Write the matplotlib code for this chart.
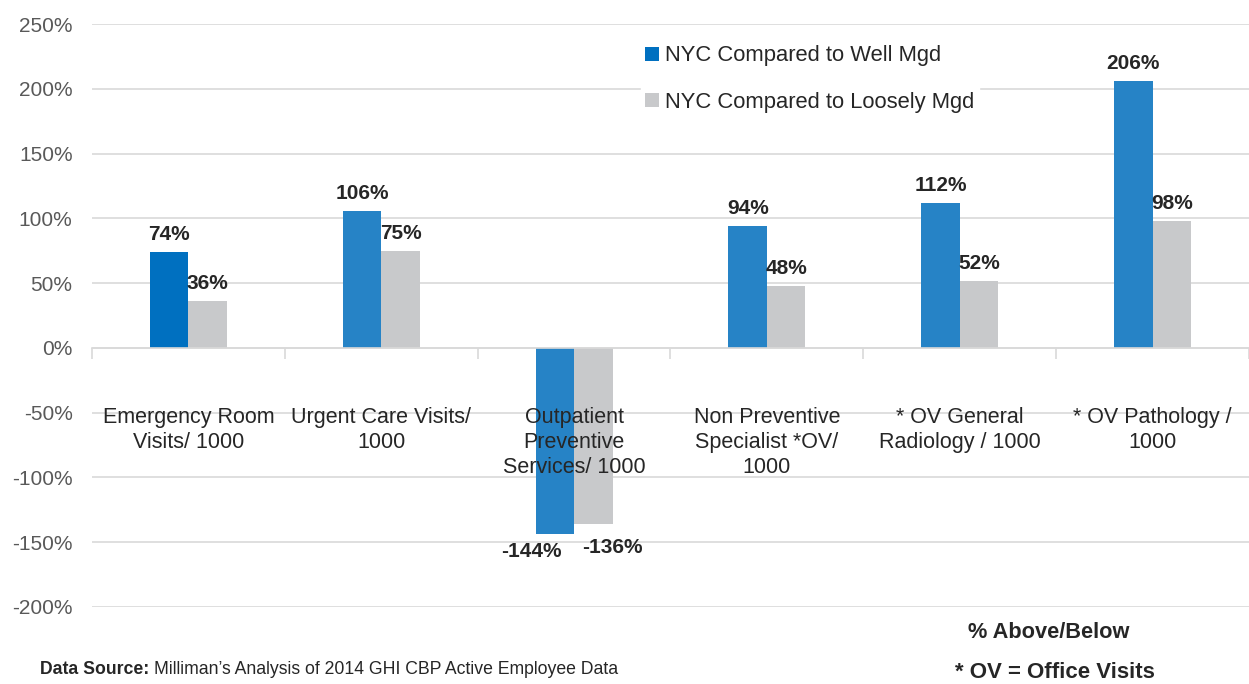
import matplotlib.pyplot as plt
import numpy as np

plt.rcParams['font.family'] = ['Liberation Sans', 'DejaVu Sans']

# chart data
categories = ["Emergency Room\nVisits/ 1000", "Urgent Care Visits/\n1000",
              "Outpatient\nPreventive\nServices/ 1000", "Non Preventive\nSpecialist *OV/\n1000",
              "* OV General\nRadiology / 1000", "* OV Pathology /\n1000"]
well_mgd = [74, 106, -144, 94, 112, 206]
loosely_mgd = [36, 75, -136, 48, 52, 98]
yticks = list(range(-200, 251, 50))

BLUE = "#2683C6"
BLUE_FIRST = "#0070C0"
GRAY = "#C8C9CB"
GRID = "#D9D9D9"
DARK = "#262626"

fig = plt.figure(figsize=(12.49, 6.84), dpi=100)
ax = fig.add_axes([92 / 1249, 77 / 684, 1 - 92 / 1249, (607 - 24) / 684])

x = np.arange(len(categories))
w = 0.2
blue_colors = [BLUE_FIRST] + [BLUE] * (len(categories) - 1)
ax.bar(x - w / 2, well_mgd, w, color=blue_colors, zorder=3, label="NYC Compared to Well Mgd")
ax.bar(x + w / 2, loosely_mgd, w, color=GRAY, zorder=3, label="NYC Compared to Loosely Mgd")

# value labels
for i in range(len(categories)):
    for off, v in ((-w / 2, well_mgd[i]), (w / 2, loosely_mgd[i])):
        if v >= 0:
            ax.text(x[i] + off, v + 6, f"{v}%", ha="center", va="bottom",
                    fontsize=15, fontweight="bold", color=DARK)
        else:
            # negative labels are pushed apart so they don't collide
            shift = -0.12 if off < 0 else 0.1
            drop = 6 if off < 0 else 11
            ax.text(x[i] + off + shift, v - drop, f"{v}%", ha="center", va="top",
                    fontsize=15, fontweight="bold", color=DARK)

# category labels
for i, c in enumerate(categories):
    ax.text(x[i], -46, c, ha="center", va="top", fontsize=15.5, color=DARK,
            linespacing=1.25)

ax.set_xlim(-0.5, len(categories) - 0.5)
ax.set_ylim(-200, 250)
ax.set_yticks(yticks)
ax.set_yticklabels([f"{t}%" for t in yticks], fontsize=15, color="#595959")
ax.tick_params(axis="y", length=0, pad=14)
ax.grid(axis="y", color=GRID, linewidth=1.2, zorder=0)

for s in ["top", "right", "left"]:
    ax.spines[s].set_visible(False)
ax.spines["bottom"].set_position(("data", 0))
ax.spines["bottom"].set_color(GRID)
ax.spines["bottom"].set_linewidth(1.2)
ax.spines["bottom"].set_zorder(4)
ax.set_xticks(np.arange(-0.5, len(categories), 1.0))
ax.set_xticklabels([])
ax.tick_params(axis="x", direction="out", length=8, color=GRID, width=1.2)

leg = ax.legend(loc="upper left", bbox_to_anchor=(630 / 1249, 1 - 30 / 684),
                bbox_transform=fig.transFigure, frameon=True, fontsize=15.8,
                handlelength=0.6, handleheight=0.6, handletextpad=0.3,
                labelspacing=1.15, borderpad=0.2, fancybox=False)
leg.get_frame().set_edgecolor("white")
leg.get_frame().set_facecolor("white")
leg.get_frame().set_alpha(1)
for t in leg.get_texts():
    t.set_color(DARK)

# footer
src_bold = fig.text(40 / 1249, 1 - 670 / 684, "Data Source:", fontsize=12.7, fontweight="bold",
                    va="center", color=DARK)
fig.canvas.draw()
bb = src_bold.get_window_extent()
fig.text((bb.x1 + 5) / 1249, 1 - 670 / 684,
         "Milliman’s Analysis of 2014 GHI CBP Active Employee Data",
         fontsize=12.7, va="center", color=DARK)
fig.text(1049 / 1249, 1 - 633 / 684, "% Above/Below", fontsize=15.7, fontweight="bold",
         ha="center", va="center", color=DARK)
fig.text(1055 / 1249, 1 - 673 / 684, "* OV = Office Visits", fontsize=16, fontweight="bold",
         ha="center", va="center", color=DARK)

fig.savefig("out.png", dpi=100)
